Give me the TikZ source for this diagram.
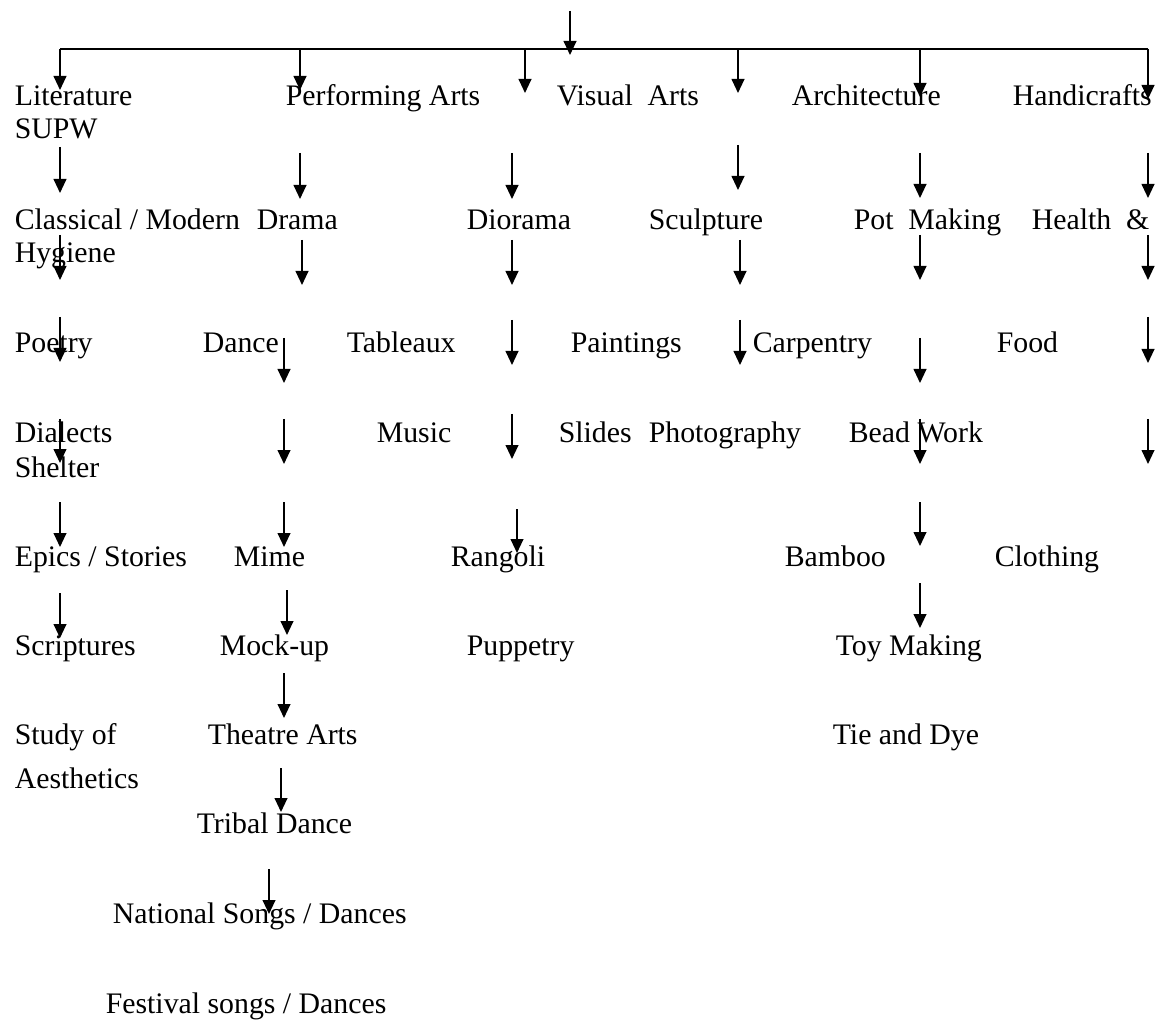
\documentclass[tikz,border=0pt]{standalone}
\usepackage{fontspec}
\setmainfont{Liberation Serif}
\usetikzlibrary{arrows.meta}

\begin{document}
\begin{tikzpicture}[x=0.5pt, y=-0.5pt,
		line width = 0.8pt,
		entry/.style={anchor=base west, inner sep=0pt, font=\fontsize{14.9}{18}\selectfont},
		pointer/.style={-{Triangle[width=6.4pt,length=7pt]}}]

	\useasboundingbox (0,0) rectangle (1156,1021);

	\node[entry] (lit) at (14,106) {Literature};
	\node[entry] (supw) at (14,139) {SUPW};
	\node[entry] (perf) at (285,106) {Performing Arts};
	\node[entry] (visual) at (556,106) {Visual\ \ Arts};
	\node[entry] (arch) at (791,106) {Architecture};
	\node[entry] (handi) at (1012,106) {Handicrafts};

	\node[entry] (classic) at (14,230) {Classical / Modern};
	\node[entry] (hygiene) at (14,263) {Hygiene};
	\node[entry] (drama) at (256,230) {Drama};
	\node[entry] (diorama) at (466,230) {Diorama};
	\node[entry] (sculpt) at (648,230) {Sculpture};
	\node[entry] (pot) at (853,230) {Pot\ \ Making};
	\node[entry] (health) at (1031,230) {Health\ \ \&};

	\node[entry] (poetry) at (14,353) {Poetry};
	\node[entry] (dance) at (202,353) {Dance};
	\node[entry] (tableaux) at (346,353) {Tableaux};
	\node[entry] (paint) at (570,353) {Paintings};
	\node[entry] (carp) at (752,353) {Carpentry};
	\node[entry] (food) at (996,353) {Food};

	\node[entry] (dialects) at (14,443) {Dialects};
	\node[entry] (shelter) at (14,477) {Shelter};
	\node[entry] (music) at (376,443) {Music};
	\node[entry] (slides) at (558,443) {Slides};
	\node[entry] (photo) at (648,443) {Photography};
	\node[entry] (bead) at (848,443) {Bead Work};

	\node[entry] (epics) at (14,566) {Epics / Stories};
	\node[entry] (mime) at (233,566) {Mime};
	\node[entry] (rangoli) at (450,566) {Rangoli};
	\node[entry] (bamboo) at (784,566) {Bamboo};
	\node[entry] (clothing) at (994,566) {Clothing};

	\node[entry] (scrip) at (14,655) {Scriptures};
	\node[entry] (mockup) at (219,655) {Mock-up};
	\node[entry] (puppet) at (466,655) {Puppetry};
	\node[entry] (toy) at (835,655) {Toy Making};

	\node[entry] (study) at (14,744) {Study of};
	\node[entry] (aesth) at (14,788) {Aesthetics};
	\node[entry] (theatre) at (207,744) {Theatre Arts};
	\node[entry] (tiedye) at (832,744) {Tie and Dye};

	\node[entry] (tribal) at (196,833) {Tribal Dance};
	\node[entry] (national) at (112,923) {National Songs / Dances};
	\node[entry] (festival) at (105,1013) {Festival songs / Dances};

	\draw[pointer] (570,11) -- (570,55);
	\draw (60,49) -- (1148,49);
	\draw[pointer] (60,49) -- (60,90);
	\draw[pointer] (300,49) -- (300,90);
	\draw[pointer] (525,50) -- (525,93);
	\draw[pointer] (738,50) -- (738,93);
	\draw[pointer] (920,50) -- (920,97);
	\draw[pointer] (1148,49) -- (1148,99);

	\draw[pointer] (60,147) -- (60,193);
	\draw[pointer] (60,235) -- (60,280);
	\draw[pointer] (60,317) -- (60,362);
	\draw[pointer] (60,419) -- (60,463);
	\draw[pointer] (60,502) -- (60,547);
	\draw[pointer] (60,593) -- (60,638);

	\draw[pointer] (300,153) -- (300,199);
	\draw[pointer] (302,240) -- (302,285);
	\draw[pointer] (284,338) -- (284,383);
	\draw[pointer] (284,419) -- (284,464);
	\draw[pointer] (284,502) -- (284,547);
	\draw[pointer] (287,590) -- (287,635);
	\draw[pointer] (284,673) -- (284,718);
	\draw[pointer] (281,768) -- (281,812);
	\draw[pointer] (269,869) -- (269,914);

	\draw[pointer] (512,153) -- (512,199);
	\draw[pointer] (512,240) -- (512,285);
	\draw[pointer] (512,320) -- (512,365);
	\draw[pointer] (512,414) -- (512,459);
	\draw[pointer] (517,509) -- (517,553);

	\draw[pointer] (738,145) -- (738,190);
	\draw[pointer] (740,240) -- (740,285);
	\draw[pointer] (740,320) -- (740,365);

	\draw[pointer] (920,153) -- (920,198);
	\draw[pointer] (920,235) -- (920,280);
	\draw[pointer] (920,338) -- (920,383);
	\draw[pointer] (920,419) -- (920,464);
	\draw[pointer] (920,502) -- (920,546);
	\draw[pointer] (920,583) -- (920,628);

	\draw[pointer] (1148,153) -- (1148,198);
	\draw[pointer] (1148,235) -- (1148,280);
	\draw[pointer] (1148,317) -- (1148,363);
	\draw[pointer] (1148,419) -- (1148,464);

\end{tikzpicture}
\end{document}
